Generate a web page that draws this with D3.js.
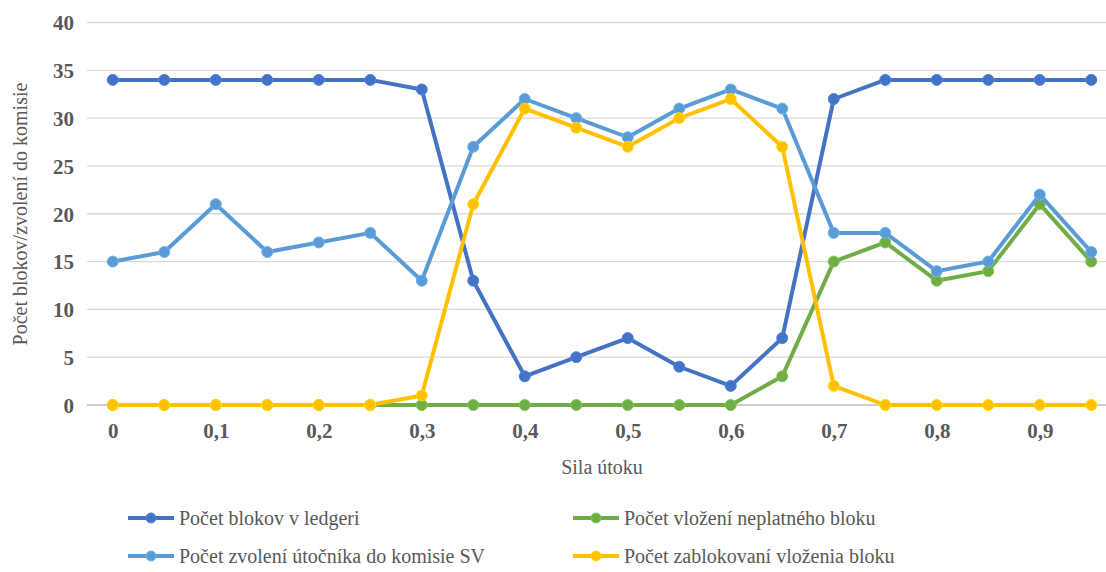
<!DOCTYPE html>
<meta charset="utf-8">
<style>
body { margin: 0; background: #fff; }
</style>
<body>
<script src="https://d3js.org/d3.v7.min.js"></script>
<script>

var width = 1106,
    height = 572;

var serif = "Liberation Serif";

var xValues = [0, 0.05, 0.1, 0.15, 0.2, 0.25, 0.3, 0.35, 0.4, 0.45, 0.5, 0.55, 0.6, 0.65, 0.7, 0.75, 0.8, 0.85, 0.9, 0.95];
var xLabels = ["0", "", "0,1", "", "0,2", "", "0,3", "", "0,4", "", "0,5", "", "0,6", "", "0,7", "", "0,8", "", "0,9", ""];

var blokyLedger = [34, 34, 34, 34, 34, 34, 33, 13, 3, 5, 7, 4, 2, 7, 32, 34, 34, 34, 34, 34];
var neplatneBloky = [0, 0, 0, 0, 0, 0, 0, 0, 0, 0, 0, 0, 0, 3, 15, 17, 13, 14, 21, 15];
var zvoleniUtocnika = [15, 16, 21, 16, 17, 18, 13, 27, 32, 30, 28, 31, 33, 31, 18, 18, 14, 15, 22, 16];
var zablokovania = [0, 0, 0, 0, 0, 0, 1, 21, 31, 29, 27, 30, 32, 27, 2, 0, 0, 0, 0, 0];

var yTicks = [0, 5, 10, 15, 20, 25, 30, 35, 40];

var series = [
  {name: "Počet blokov v ledgeri", values: blokyLedger, color: "#4472c4"},
  {name: "Počet vložení neplatného bloku", values: neplatneBloky, color: "#70ad47"},
  {name: "Počet zvolení útočníka do komisie SV", values: zvoleniUtocnika, color: "#5b9bd5"},
  {name: "Počet zablokovaní vloženia bloku", values: zablokovania, color: "#ffc000"}
];

var x = d3.scalePoint()
    .domain(xValues)
    .range([87, 1117])
    .padding(0.5);

var y = d3.scaleLinear()
    .domain([0, 40])
    .range([405, 22.5]);

var svg = d3.select("body").append("svg")
    .attr("width", width)
    .attr("height", height)
    .attr("font-family", serif)
    .attr("fill", "#595959");

// gridlines
svg.append("g")
  .selectAll("line").data(yTicks)
  .enter().append("line")
    .attr("x1", 87)
    .attr("x2", width)
    .attr("y1", d => y(d))
    .attr("y2", d => y(d))
    .attr("stroke", d => d === 0 ? "#bfbfbf" : "#d9d9d9")
    .attr("stroke-width", 1.3);

// y axis labels
var yAxis = svg.append("g")
    .attr("transform", "translate(74,0)")
    .call(d3.axisLeft(y).tickValues(yTicks).tickSize(0).tickPadding(0));
yAxis.attr("font-family", serif).attr("font-size", 21).attr("font-weight", "bold");
yAxis.select(".domain").remove();
yAxis.selectAll("text")
    .attr("dy", "0.35em")
    .attr("fill", "#595959");

// x axis labels
var xAxis = svg.append("g")
    .attr("transform", "translate(0,421)")
    .call(d3.axisBottom(x).tickSize(0).tickPadding(0).tickFormat((d, i) => xLabels[i]));
xAxis.attr("font-family", serif).attr("font-size", 21).attr("font-weight", "bold");
xAxis.select(".domain").remove();
xAxis.selectAll("text")
    .attr("dy", "0.8em")
    .attr("fill", "#595959");

svg.append("text")
    .attr("x", 602)
    .attr("y", 474)
    .attr("text-anchor", "middle")
    .attr("font-size", 20)
    .text("Sila útoku");

svg.append("text")
    .attr("transform", "translate(27,214) rotate(-90)")
    .attr("text-anchor", "middle")
    .attr("font-size", 20)
    .text("Počet blokov/zvolení do komisie");

var line = d3.line()
    .x((d, i) => x(xValues[i]))
    .y(d => y(d));

series.forEach(function(s) {
  var g = svg.append("g");
  g.append("path")
    .datum(s.values)
    .attr("fill", "none")
    .attr("stroke", s.color)
    .attr("stroke-width", 4)
    .attr("stroke-linejoin", "round")
    .attr("d", line);
  g.selectAll("circle").data(s.values)
    .enter().append("circle")
      .attr("cx", (d, i) => x(xValues[i]))
      .attr("cy", d => y(d))
      .attr("r", 5.5)
      .attr("fill", s.color)
      .attr("stroke", d3.color(s.color).brighter(0.4))
      .attr("stroke-width", 1);
});

// legend
var legendPos = [[128, 518], [573, 518], [128, 556], [573, 556]];
var legend = svg.append("g")
  .selectAll("g").data(series)
  .enter().append("g")
    .attr("transform", (d, i) => "translate(" + legendPos[i][0] + "," + legendPos[i][1] + ")");
legend.append("line")
    .attr("x1", 0).attr("x2", 46)
    .attr("stroke", d => d.color)
    .attr("stroke-width", 4);
legend.append("circle")
    .attr("cx", 23).attr("r", 5)
    .attr("fill", d => d.color)
    .attr("stroke", d => d3.color(d.color).brighter(0.4));
legend.append("text")
    .attr("x", 51)
    .attr("dy", "0.35em")
    .attr("font-size", 20)
    .text(d => d.name);

</script>
